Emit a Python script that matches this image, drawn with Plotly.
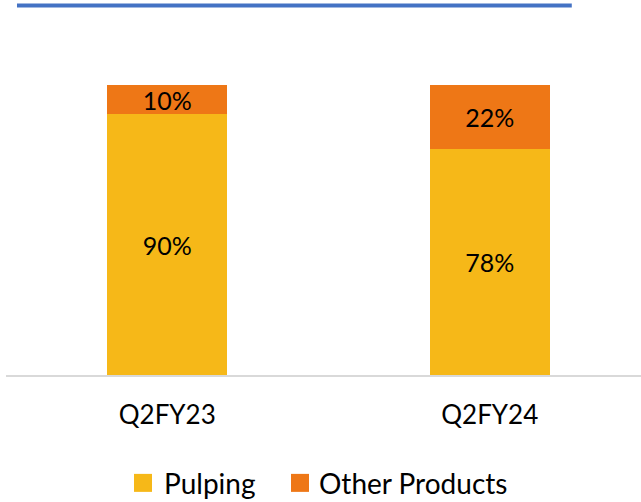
import plotly.graph_objects as go

categories = ["Q2FY23", "Q2FY24"]
series_names = ["Pulping", "Other Products"]
pulping = [90, 78]
other_products = [10, 22]
colors = ["#F6B818", "#EE7716"]

FONT = "Lato"

fig = go.Figure()
for name, vals, col in zip(series_names, [pulping, other_products], colors):
    fig.add_trace(go.Bar(
        x=categories, y=vals, name=name,
        marker=dict(color=col, line=dict(width=0)),
        width=0.372,
        text=[f"{v}%" for v in vals],
        textposition="inside", insidetextanchor="middle",
        constraintext="none",
        textfont=dict(family=FONT, size=25, color="#000000"),
        showlegend=False,
        hoverinfo="skip",
    ))

fig.update_layout(
    barmode="stack",
    width=641, height=502,
    margin=dict(l=6, r=0, t=85, b=127, pad=0),
    paper_bgcolor="white", plot_bgcolor="white",
    font=dict(family=FONT, size=26, color="#000000"),
    xaxis=dict(
        type="category", range=[-0.5, 1.469],
        showline=True, linecolor="#D9D9D9", linewidth=2,
        showgrid=False, ticks="", zeroline=False,
        tickfont=dict(family=FONT, size=26, color="#000000"),
        ticklabelstandoff=16,
    ),
    yaxis=dict(range=[0, 100], visible=False, showgrid=False, zeroline=False),
)

# blue top rule
fig.add_shape(type="line", xref="paper", yref="paper",
              x0=0.0173, x1=0.891, y0=1.274, y1=1.274,
              line=dict(color="#4472C4", width=4))

# custom legend
leg_y = -0.372
sq_half = 9 / 290
items = [(0.2016, 0.2457), (0.4488, 0.4898)]  # square left (paper), text left (paper)
for (sq_x, tx), name, col in zip(items, series_names, colors):
    fig.add_shape(type="rect", xref="paper", yref="paper",
                  x0=sq_x, x1=sq_x + 18 / 635, y0=leg_y - sq_half, y1=leg_y + sq_half,
                  fillcolor=col, line=dict(width=0))
    fig.add_annotation(xref="paper", yref="paper", x=tx, y=leg_y,
                       xanchor="left", yanchor="middle", showarrow=False,
                       text=name, font=dict(family=FONT, size=28, color="#000000"))

fig.write_html(
    "out.html",
    config={"displayModeBar": False},
    post_script="document.body.style.margin='0';document.body.style.padding='0';"
                "document.body.style.overflow='hidden';",
)
